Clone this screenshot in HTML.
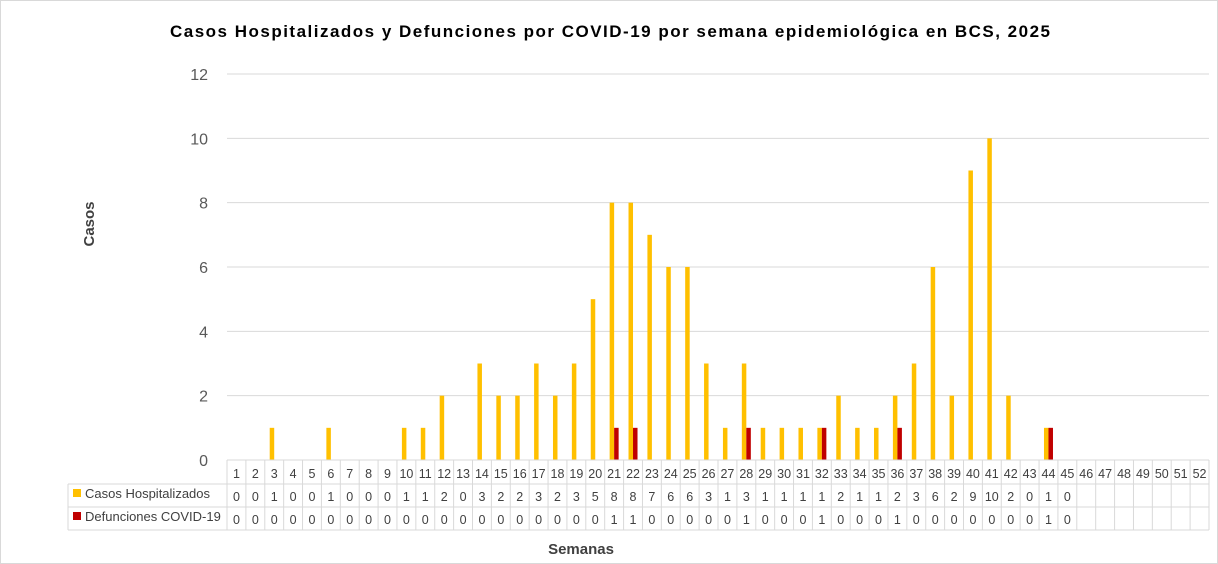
<!DOCTYPE html>
<html><head><meta charset="utf-8"><style>
html,body{margin:0;padding:0;background:#fff}
svg{display:block;font-family:"Liberation Sans",sans-serif}
</style></head><body>
<svg id="s" width="1218" height="564" viewBox="0 0 1218 564" xmlns="http://www.w3.org/2000/svg">
<rect x="0.5" y="0.5" width="1217" height="563" fill="#fff" stroke="#d9d9d9"/>
<text x="170" y="37" textLength="880" lengthAdjust="spacing" font-size="17" font-weight="bold" fill="#000">Casos Hospitalizados y Defunciones por COVID-19 por semana epidemiológica en BCS, 2025</text>
<text transform="translate(94,224) rotate(-90)" text-anchor="middle" font-size="15" font-weight="bold" fill="#404040">Casos</text>
<text x="581" y="554" text-anchor="middle" font-size="15" font-weight="bold" fill="#404040">Semanas</text>
<g id="g"></g>
</svg>
<script>
var g=document.getElementById('g'),h='';
var x0=227,x1=1209,cw=(x1-x0)/52,y0=460,u=(460-74)/12;
for(var i=0;i<=6;i++){var y=y0-i*2*u;
 if(i>0)h+='<line x1="227" x2="1209" y1="'+y+'" y2="'+y+'" stroke="#d9d9d9"/>';
 h+='<text x="208" y="'+(y+6)+'" text-anchor="end" font-size="16" fill="#595959">'+(i*2)+'</text>';}
var c=[0,0,1,0,0,1,0,0,0,1,1,2,0,3,2,2,3,2,3,5,8,8,7,6,6,3,1,3,1,1,1,1,2,1,1,2,3,6,2,9,10,2,0,1,0];
var d=[];for(var i=0;i<45;i++)d.push(0);[21,22,28,32,36,44].forEach(function(w){d[w-1]=1});
for(var i=0;i<52;i++){var cx=x0+cw*(i+0.5);
 if(c[i])h+='<rect x="'+(cx-4.5)+'" y="'+(y0-c[i]*u)+'" width="4.5" height="'+(c[i]*u)+'" fill="#ffc000"/>';
 if(d[i])h+='<rect x="'+cx+'" y="'+(y0-d[i]*u)+'" width="4.5" height="'+(d[i]*u)+'" fill="#c00000"/>';
 h+='<text x="'+cx+'" y="478" text-anchor="middle" font-size="12.5" fill="#404040">'+(i+1)+'</text>';
 if(i<45){h+='<text x="'+cx+'" y="501" text-anchor="middle" font-size="12.5" fill="#404040">'+c[i]+'</text>';
 h+='<text x="'+cx+'" y="524" text-anchor="middle" font-size="12.5" fill="#404040">'+d[i]+'</text>';}
}
var L='stroke="#d9d9d9" stroke-width="1"';
h+='<line x1="227" x2="1209" y1="460" y2="460" '+L+'/>';
[484,507,530].forEach(function(y){h+='<line x1="68" x2="1209" y1="'+y+'" y2="'+y+'" '+L+'/>'});
h+='<line x1="68" x2="68" y1="484" y2="530" '+L+'/>';
for(var i=0;i<=52;i++){var x=x0+cw*i;h+='<line x1="'+x+'" x2="'+x+'" y1="460" y2="530" '+L+'/>';}
h+='<rect x="73" y="489" width="8" height="8" fill="#ffc000"/><text x="85" y="498" font-size="13" fill="#404040">Casos Hospitalizados</text>';
h+='<rect x="73" y="512" width="8" height="8" fill="#c00000"/><text x="85" y="521" font-size="13" fill="#404040">Defunciones COVID-19</text>';
g.innerHTML=h;
</script>
</body></html>
